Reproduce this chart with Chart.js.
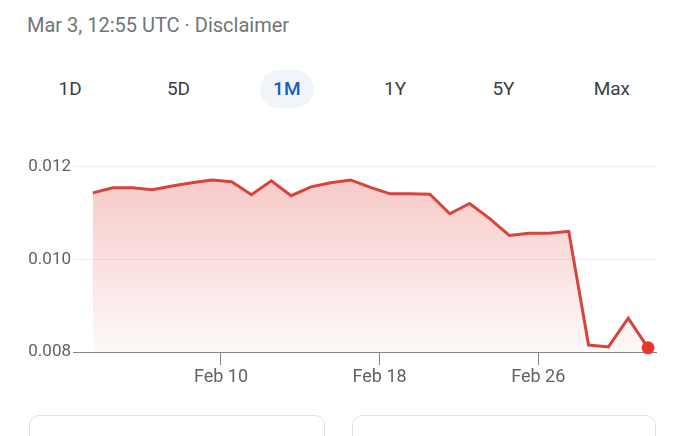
<!DOCTYPE html>
<html>
<head>
<meta charset="utf-8">
<script src="https://cdn.jsdelivr.net/npm/chart.js@4"></script>
<style>
  html, body { margin: 0; padding: 0; background: #fff; width: 680px; height: 436px; overflow: hidden; font-family: Roboto, "Noto Sans", Arial, sans-serif; }
  #stamp { position: absolute; left: 27px; top: 13px; font-size: 20px; line-height: 24px; color: #70757a; white-space: nowrap; }
  #ranges { position: absolute; left: 16px; top: 70px; width: 650px; height: 38px; display: flex; }
  #ranges div { flex: 1; display: flex; align-items: center; justify-content: center; font-size: 19px; font-weight: 400; color: #3c4043; }
  #ranges div span { display: inline-block; padding: 0 13px; height: 38px; line-height: 38px; border-radius: 19px; }
  #ranges div.sel span { background: #f1f4f9; color: #1a5bbf; font-weight: 500; }
  #wrap { position: absolute; left: 0; top: 140px; width: 680px; height: 260px; }
  .card { position: absolute; top: 415px; height: 60px; border: 1px solid #dfe1e5; border-radius: 10px; background: #fff; }
</style>
</head>
<body>
<div id="stamp">Mar 3, 12:55 UTC · Disclaimer</div>
<div id="ranges"></div>
<div id="wrap"><canvas id="c"></canvas></div>
<div class="card" style="left:29px; width:294px;"></div>
<div class="card" style="left:352px; width:302px;"></div>
<script>
const rangeLabels = ['1D', '5D', '1M', '1Y', '5Y', 'Max'];
const selectedRange = '1M';

const dates = ['2025-02-03','2025-02-04','2025-02-05','2025-02-06','2025-02-07','2025-02-08','2025-02-09',
  '2025-02-10','2025-02-11','2025-02-12','2025-02-13','2025-02-14','2025-02-15','2025-02-16',
  '2025-02-17','2025-02-18','2025-02-19','2025-02-20','2025-02-21','2025-02-22','2025-02-23',
  '2025-02-24','2025-02-25','2025-02-26','2025-02-27','2025-02-28','2025-03-01','2025-03-02','2025-03-03'];
const prices = [0.01144,0.01155,0.01155,0.01151,0.01159,0.01166,0.01172,
  0.01168,0.01140,0.01170,0.01138,0.01157,0.01166,0.01172,
  0.01156,0.01142,0.01142,0.01141,0.01099,0.01121,0.01089,
  0.01052,0.01057,0.01057,0.01061,0.00815,0.00811,0.00873,0.00809];
const yTicks = [0.008, 0.010, 0.012];
const xTickDays = [10, 18, 26];
const xTickLabels = ['Feb 10', 'Feb 18', 'Feb 26'];

const rangesEl = document.getElementById('ranges');
rangeLabels.forEach(r => {
  const d = document.createElement('div');
  if (r === selectedRange) d.className = 'sel';
  const s = document.createElement('span');
  s.textContent = r;
  d.appendChild(s);
  rangesEl.appendChild(d);
});

// day number relative to Jan 31 (so Feb 10 00:00 = 10), sample time 12:55 UTC
const origin = Date.UTC(2025, 0, 31);
const dayOf = s => (Date.parse(s + 'T12:55:00Z') - origin) / 864e5;
const points = dates.map((d, i) => ({ x: dayOf(d), y: prices[i] }));
const lastIdx = points.length - 1;

const ctx = document.getElementById('c').getContext('2d');
new Chart(ctx, {
  type: 'line',
  data: {
    datasets: [{
      data: points,
      borderColor: '#d6453b',
      borderWidth: 3,
      tension: 0,
      clip: false,
      fill: 'start',
      backgroundColor: (c) => {
        const a = c.chart.chartArea;
        if (!a) return 'rgba(230,90,85,0.2)';
        const g = c.chart.ctx.createLinearGradient(0, a.top, 0, a.bottom);
        g.addColorStop(0, 'rgba(232,110,105,0.42)');
        g.addColorStop(1, 'rgba(232,110,105,0.04)');
        return g;
      },
      pointRadius: (c) => c.dataIndex === lastIdx ? 6.5 : 0,
      pointHoverRadius: 0,
      pointBackgroundColor: '#e5392f',
      pointBorderColor: '#e5392f',
      pointBorderWidth: 0
    }]
  },
  options: {
    responsive: true,
    maintainAspectRatio: false,
    animation: false,
    events: [],
    layout: { padding: { top: 10, right: 24, left: 0, bottom: 0 } },
    plugins: { legend: { display: false }, tooltip: { enabled: false } },
    scales: {
      x: {
        type: 'linear',
        min: dayOf(dates[0]) - 1.0,
        max: dayOf(dates[lastIdx]) + 0.4,
        afterBuildTicks: (s) => { s.ticks = xTickDays.map(v => ({ value: v })); },
        afterFit: (s) => { s.height = 48; },
        border: { display: true, color: '#80868b', width: 1 },
        grid: { drawOnChartArea: false, drawTicks: true, tickLength: 13, color: '#80868b', lineWidth: 1 },
        ticks: {
          padding: 2,
          color: '#5f6368',
          font: { family: 'Roboto', size: 18 },
          maxRotation: 0,
          autoSkip: false,
          callback: (v) => { const i = xTickDays.indexOf(v); return i >= 0 ? xTickLabels[i] : ''; }
        }
      },
      y: {
        min: 0.008,
        max: 0.01232,
        afterBuildTicks: (s) => { s.ticks = yTicks.map(v => ({ value: v })); },
        afterFit: (s) => { s.width = 73; },
        border: { display: false },
        grid: {
          drawTicks: false,
          color: (c) => c.tick && Math.abs(c.tick.value - 0.008) < 1e-9 ? 'rgba(0,0,0,0)' : '#ededed',
          lineWidth: 1
        },
        ticks: {
          padding: 2,
          color: '#5f6368',
          font: { family: 'Roboto', size: 17 },
          callback: (v) => Number(v).toFixed(3)
        }
      }
    }
  }
});
</script>
</body>
</html>
